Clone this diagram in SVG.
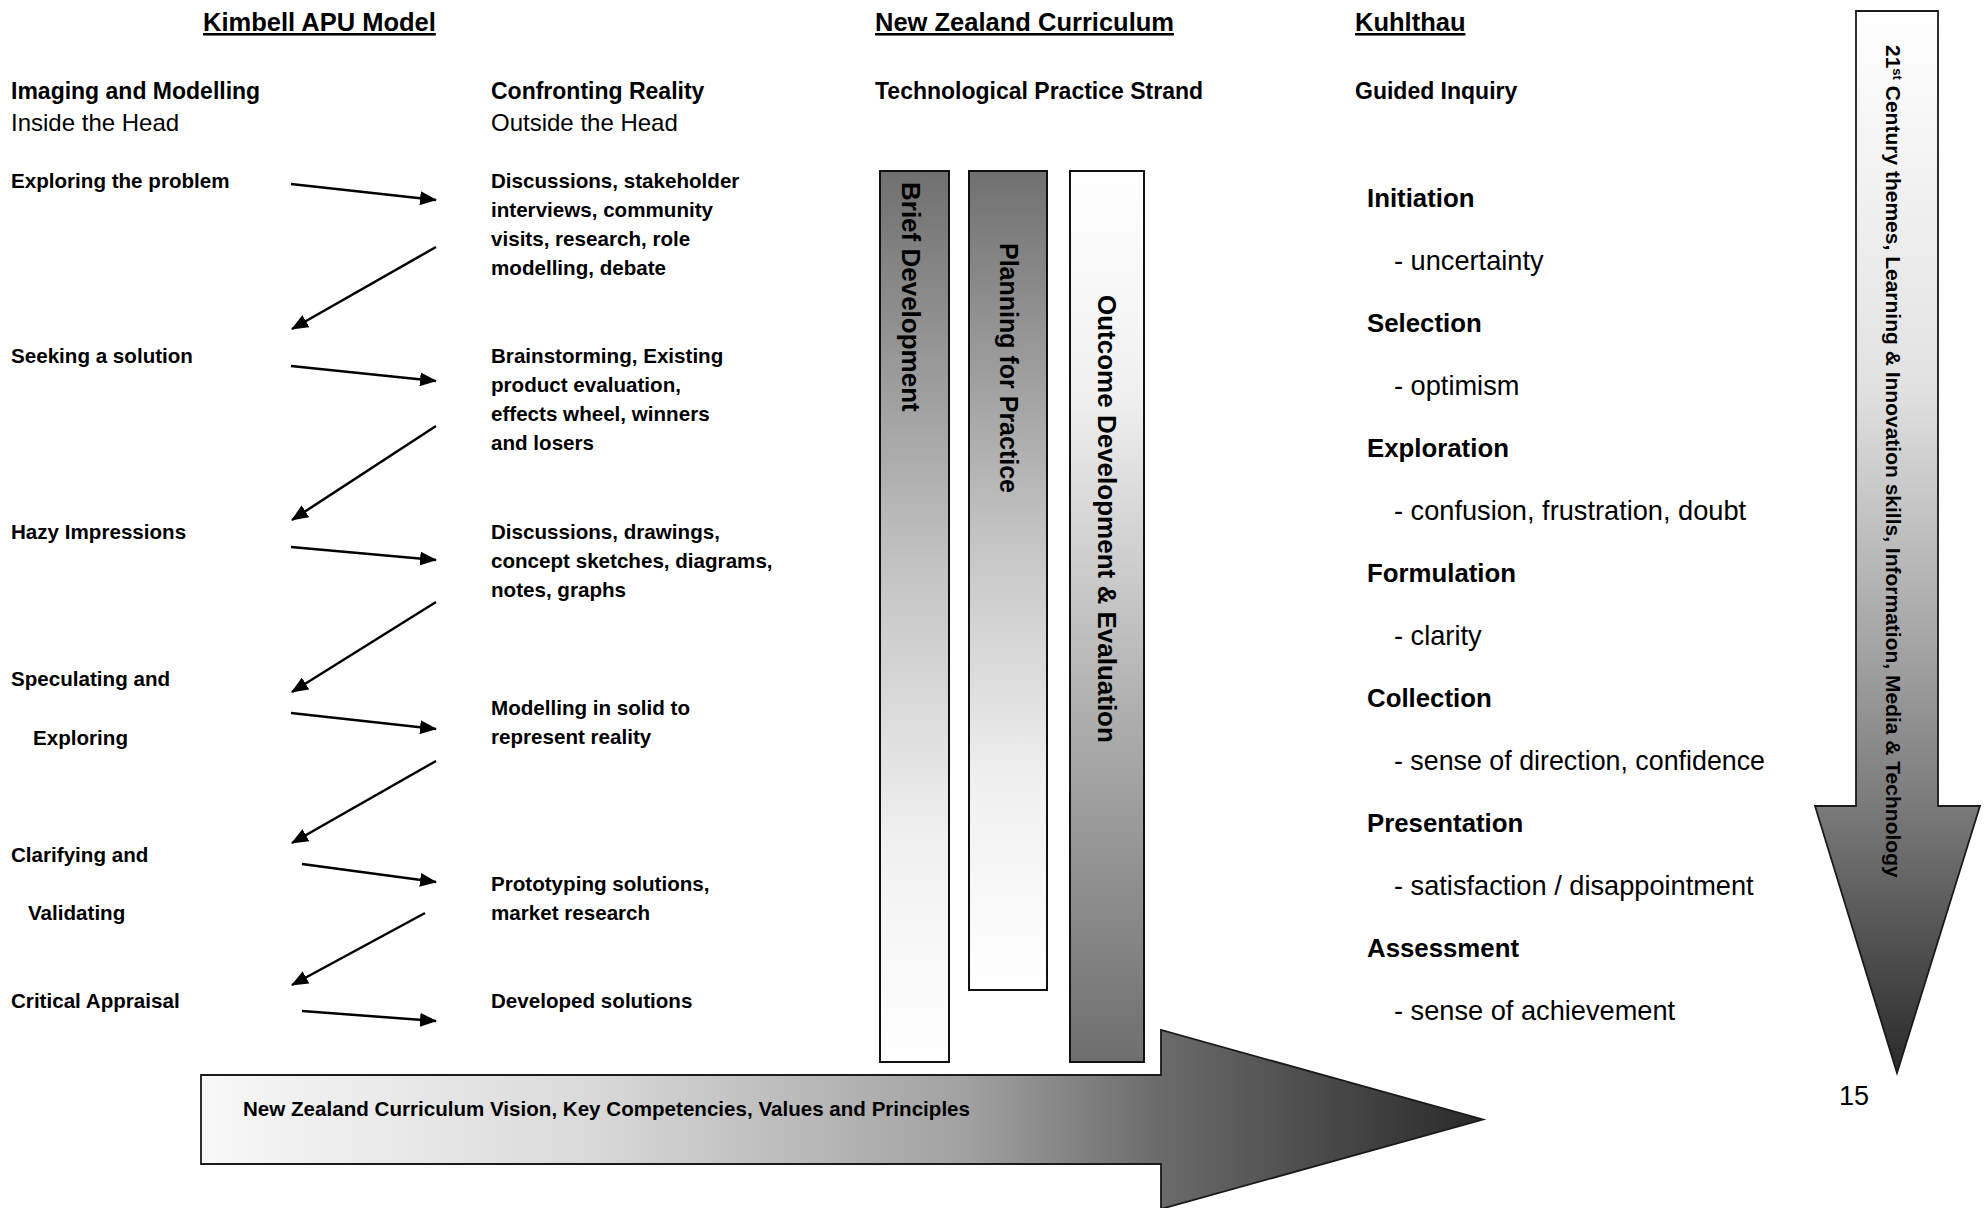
<svg xmlns="http://www.w3.org/2000/svg" width="1986" height="1208" viewBox="0 0 1986 1208">
<style>
text{font-family:"Liberation Sans",Arial,sans-serif;fill:#000}
.title{font-size:25.5px;font-weight:bold;text-decoration:underline}
.sub{font-size:23px;font-weight:bold}
.reg{font-size:24px}
.item{font-size:20.6px;font-weight:bold}
.kh{font-size:25.8px;font-weight:bold}
.ki{font-size:27.2px}
.bar{stroke:#111;stroke-width:2}
.vt{font-size:26px;font-weight:bold}
.conn line{stroke:#000;stroke-width:2.5}
</style>
<defs>
<marker id="ah" markerUnits="userSpaceOnUse" markerWidth="18" markerHeight="14" refX="16" refY="7" orient="auto">
<path d="M0,0 L17,7 L0,14 z" fill="#000"/>
</marker>
<linearGradient id="gDown" x1="0" y1="0" x2="0" y2="1">
<stop offset="0" stop-color="#707070"/>
<stop offset="0.45" stop-color="#c4c4c4"/>
<stop offset="0.75" stop-color="#f0f0f0"/>
<stop offset="1" stop-color="#ffffff"/>
</linearGradient>
<linearGradient id="gUp" x1="0" y1="0" x2="0" y2="1">
<stop offset="0" stop-color="#ffffff"/>
<stop offset="0.25" stop-color="#f0f0f0"/>
<stop offset="0.6" stop-color="#b0b0b0"/>
<stop offset="1" stop-color="#6e6e6e"/>
</linearGradient>
<linearGradient id="gArrowV" x1="0" y1="0" x2="0" y2="1">
<stop offset="0" stop-color="#ffffff"/>
<stop offset="0.35" stop-color="#e2e2e2"/>
<stop offset="0.58" stop-color="#a9a9a9"/>
<stop offset="0.75" stop-color="#7a7a7a"/>
<stop offset="1" stop-color="#2a2a2a"/>
</linearGradient>
<linearGradient id="gArrowH" x1="0" y1="0" x2="1" y2="0">
<stop offset="0" stop-color="#f8f8f8"/>
<stop offset="0.3" stop-color="#dadada"/>
<stop offset="0.6" stop-color="#a0a0a0"/>
<stop offset="0.75" stop-color="#6a6a6a"/>
<stop offset="1" stop-color="#2a2a2a"/>
</linearGradient>
</defs>

<g id="headers">
<text class="title" x="203" y="31">Kimbell APU Model</text>
<text class="title" x="875" y="31">New Zealand Curriculum</text>
<text class="title" x="1355" y="31">Kuhlthau</text>
<text class="sub" x="11" y="99">Imaging and Modelling</text>
<text class="reg" x="11" y="131">Inside the Head</text>
<text class="sub" x="491" y="99">Confronting Reality</text>
<text class="reg" x="491" y="131">Outside the Head</text>
<text class="sub" x="875" y="99">Technological Practice Strand</text>
<text class="sub" x="1355" y="99">Guided Inquiry</text>
</g>

<g id="imaging-stages">
<text class="item" x="11" y="188">Exploring the problem</text>
<text class="item" x="11" y="363">Seeking a solution</text>
<text class="item" x="11" y="539">Hazy Impressions</text>
<text class="item" x="11" y="686">Speculating and</text>
<text class="item" x="33" y="745">Exploring</text>
<text class="item" x="11" y="862">Clarifying and</text>
<text class="item" x="28" y="920">Validating</text>
<text class="item" x="11" y="1008">Critical Appraisal</text>
</g>

<g id="reality-stages">
<text class="item" x="491" y="188">Discussions, stakeholder</text>
<text class="item" x="491" y="217">interviews, community</text>
<text class="item" x="491" y="246">visits, research, role</text>
<text class="item" x="491" y="275">modelling, debate</text>
<text class="item" x="491" y="363">Brainstorming, Existing</text>
<text class="item" x="491" y="392">product evaluation,</text>
<text class="item" x="491" y="421">effects wheel, winners</text>
<text class="item" x="491" y="450">and losers</text>
<text class="item" x="491" y="539">Discussions, drawings,</text>
<text class="item" x="491" y="568">concept sketches, diagrams,</text>
<text class="item" x="491" y="597">notes, graphs</text>
<text class="item" x="491" y="715">Modelling in solid to</text>
<text class="item" x="491" y="744">represent reality</text>
<text class="item" x="491" y="891">Prototyping solutions,</text>
<text class="item" x="491" y="920">market research</text>
<text class="item" x="491" y="1008">Developed solutions</text>
</g>

<g id="connectors" class="conn">
<line x1="291" y1="184" x2="436" y2="200" marker-end="url(#ah)"/>
<line x1="436" y1="247" x2="292" y2="329" marker-end="url(#ah)"/>
<line x1="291" y1="366" x2="436" y2="381" marker-end="url(#ah)"/>
<line x1="436" y1="426" x2="292" y2="520" marker-end="url(#ah)"/>
<line x1="291" y1="547" x2="436" y2="560" marker-end="url(#ah)"/>
<line x1="436" y1="602" x2="292" y2="692" marker-end="url(#ah)"/>
<line x1="291" y1="713" x2="436" y2="729" marker-end="url(#ah)"/>
<line x1="436" y1="761" x2="292" y2="843" marker-end="url(#ah)"/>
<line x1="302" y1="864" x2="436" y2="882" marker-end="url(#ah)"/>
<line x1="425" y1="913" x2="292" y2="985" marker-end="url(#ah)"/>
<line x1="302" y1="1011" x2="436" y2="1021" marker-end="url(#ah)"/>
</g>

<g id="bar-brief">
<rect class="bar" x="880" y="171" width="69" height="891" fill="url(#gDown)"/>
<text class="vt" transform="translate(902,182) rotate(90)">Brief Development</text>
</g>
<g id="bar-planning">
<rect class="bar" x="969" y="171" width="78" height="819" fill="url(#gDown)"/>
<text class="vt" transform="translate(1000,243) rotate(90)" textLength="250" lengthAdjust="spacingAndGlyphs">Planning for Practice</text>
</g>
<g id="bar-outcome">
<rect class="bar" x="1070" y="171" width="74" height="891" fill="url(#gUp)"/>
<text class="vt" transform="translate(1098,295) rotate(90)">Outcome Development &amp; Evaluation</text>
</g>

<g id="kuhlthau">
<text class="kh" x="1367" y="207">Initiation</text>
<text class="ki" x="1394" y="270">- uncertainty</text>
<text class="kh" x="1367" y="332">Selection</text>
<text class="ki" x="1394" y="395">- optimism</text>
<text class="kh" x="1367" y="457">Exploration</text>
<text class="ki" x="1394" y="520">- confusion, frustration, doubt</text>
<text class="kh" x="1367" y="582">Formulation</text>
<text class="ki" x="1394" y="645">- clarity</text>
<text class="kh" x="1367" y="707">Collection</text>
<text class="ki" x="1394" y="770" textLength="371" lengthAdjust="spacingAndGlyphs">- sense of direction, confidence</text>
<text class="kh" x="1367" y="832">Presentation</text>
<text class="ki" x="1394" y="895">- satisfaction / disappointment</text>
<text class="kh" x="1367" y="957">Assessment</text>
<text class="ki" x="1394" y="1020">- sense of achievement</text>
</g>

<g id="arrow-21st">
<polygon points="1856,11 1938,11 1938,806 1980,806 1897,1073 1815,806 1856,806" fill="url(#gArrowV)" stroke="#1a1a1a" stroke-width="1.8"/>
<text transform="translate(1886,45) rotate(90)" style="font-size:21px;font-weight:bold">21<tspan style="font-size:13px" baseline-shift="super">st</tspan> Century themes, Learning &amp; Innovation skills, Information, Media &amp; Technology</text>
</g>

<g id="arrow-nzc">
<polygon points="201,1075 1161,1075 1161,1030 1483,1119.5 1161,1209 1161,1164 201,1164" fill="url(#gArrowH)" stroke="#1a1a1a" stroke-width="1.8"/>
<text x="243" y="1116" style="font-size:20.4px;font-weight:bold" textLength="727" lengthAdjust="spacingAndGlyphs">New Zealand Curriculum Vision, Key Competencies, Values and Principles</text>
</g>

<g id="page-number">
<text x="1839" y="1105" style="font-size:27px">15</text>
</g>
</svg>
